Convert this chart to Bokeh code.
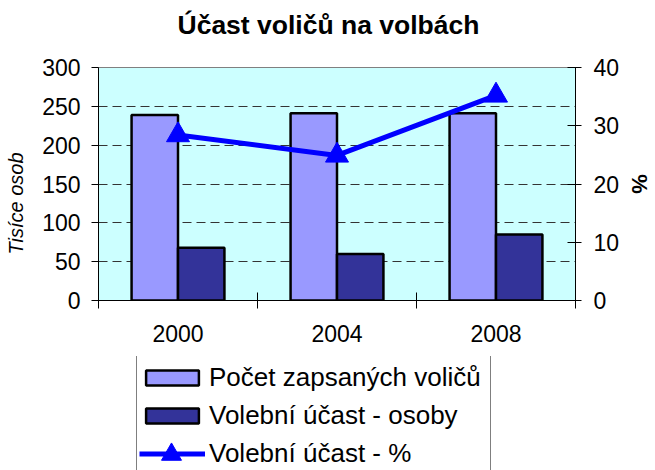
from bokeh.plotting import figure
from bokeh.layouts import column
from bokeh.models import (Range1d, LinearAxis, FixedTicker, Legend, LegendItem,
                          ColumnDataSource, Title)
from bokeh.embed import file_html
from bokeh.resources import INLINE

# ---- data ----
categories = ["2000", "2004", "2008"]
registered = [239, 241, 241]          # Počet zapsaných voličů (tisíce)
turnout_persons = [68, 60, 85]        # Volební účast - osoby (tisíce)
turnout_pct = [28.4, 24.9, 35.2]      # Volební účast - %
left_ticks = [0, 50, 100, 150, 200, 250, 300]
right_ticks = [0, 10, 20, 30, 40]
series_names = ["Počet zapsaných voličů", "Volební účast - osoby", "Volební účast - %"]

FONT = "Liberation Sans"
C_REG = "#9999FF"
C_PER = "#333399"
C_PCT = "#0000FF"
n = len(categories)
centers = [i + 0.5 for i in range(n)]
bw = 0.292

src = ColumnDataSource(dict(
    cat=categories,
    xc=centers,
    x1=[c - bw / 2 for c in centers],
    x2=[c + bw / 2 for c in centers],
    reg=registered,
    per=turnout_persons,
    pct=turnout_pct,
))

p = figure(width=655, height=356, output_backend="svg", toolbar_location=None,
           tools="", x_range=Range1d(0, n), y_range=Range1d(0, left_ticks[-1]),
           min_border_left=98, min_border_right=78, min_border_top=67,
           min_border_bottom=56, title_location=None)
p.background_fill_color = "#CCFFFF"
p.border_fill_color = "white"
p.outline_line_color = "#808080"
p.outline_line_width = 1

p.extra_y_ranges = {"pct": Range1d(0, right_ticks[-1])}


def draw_series(fig, pct_range="pct"):
    a = fig.vbar(x="x1", top="reg", width=bw, source=src, fill_color=C_REG,
                 line_color="black", line_width=2.5)
    b = fig.vbar(x="x2", top="per", width=bw, source=src, fill_color=C_PER,
                 line_color="black", line_width=2.5)
    c = fig.line(x="xc", y="pct", source=src, y_range_name=pct_range,
                 line_color=C_PCT, line_width=5)
    d = fig.scatter(x="xc", y="pct", source=src, y_range_name=pct_range,
                    marker="triangle", size=23, fill_color=C_PCT, line_color=C_PCT)
    return a, b, c, d


draw_series(p)

# title: spacer panel next to the frame, main title above it
p.add_layout(Title(text=" ", text_font_size="1px", standoff=20), "above")
p.add_layout(Title(text="Účast voličů na volbách", align="left", offset=79,
                   text_font=FONT, text_font_size="26.5px", text_font_style="bold",
                   text_color="black", standoff=10), "above")

# grid
p.xgrid.visible = False
p.ygrid.ticker = FixedTicker(ticks=left_ticks[1:-1])
p.ygrid.grid_line_color = "#333333"
p.ygrid.grid_line_dash = "9 5"
p.ygrid.grid_line_width = 1

# x axis
xa = p.xaxis[0]
xa.ticker = FixedTicker(ticks=centers, minor_ticks=list(range(n + 1)))
xa.major_label_overrides = {c: lab for c, lab in zip(centers, categories)}
xa.major_tick_in = 0
xa.major_tick_out = 0
xa.minor_tick_in = 8
xa.minor_tick_out = 8
xa.minor_tick_line_color = "black"
xa.axis_line_color = "black"
xa.major_label_standoff = 16
xa.major_label_text_font = FONT
xa.major_label_text_font_size = "23px"
xa.major_label_text_color = "black"

# left axis
ya = p.yaxis[0]
ya.ticker = FixedTicker(ticks=left_ticks)
ya.minor_tick_line_color = None
ya.major_tick_in = 0
ya.major_tick_out = 7
ya.major_tick_line_color = "black"
ya.axis_line_color = "black"
ya.major_label_standoff = 11
ya.major_label_text_font = FONT
ya.major_label_text_font_size = "23px"
ya.major_label_text_color = "black"
ya.axis_label = "Tisíce osob" + "\u00a0" * 7
ya.axis_label_text_font = FONT
ya.axis_label_text_font_size = "20px"
ya.axis_label_text_font_style = "italic"
ya.axis_label_text_color = "black"
ya.axis_label_standoff = 12

# right axis
ra = LinearAxis(y_range_name="pct", ticker=FixedTicker(ticks=right_ticks))
ra.minor_tick_line_color = None
ra.major_tick_in = 8
ra.major_tick_out = 6
ra.major_tick_line_color = "black"
ra.axis_line_color = "black"
ra.major_label_standoff = 12
ra.major_label_text_font = FONT
ra.major_label_text_font_size = "23px"
ra.major_label_text_color = "black"
ra.axis_label = "%"
ra.axis_label_text_font = FONT
ra.axis_label_text_font_size = "22px"
ra.axis_label_text_font_style = "bold"
ra.axis_label_text_color = "black"
ra.axis_label_standoff = 5
p.add_layout(ra, "right")

# ---- legend strip below the chart (same series, hidden, used only as legend keys) ----
q = figure(width=655, height=114, output_backend="svg", toolbar_location=None,
           tools="", x_range=Range1d(100, 103), y_range=Range1d(1000, 2000),
           x_axis_type=None, y_axis_type=None, min_border_left=98,
           min_border_right=78, min_border_top=0, min_border_bottom=0)
q.extra_y_ranges = {"pct": Range1d(100, 200)}
q.outline_line_color = None
q.background_fill_color = "white"
q.border_fill_color = "white"
q.xgrid.visible = False
q.ygrid.visible = False
g1, g2, g3, g4 = draw_series(q)
for g in (g1, g2, g3, g4):
    g.visible = False

legend = Legend(items=[
    LegendItem(label=series_names[0], renderers=[g1]),
    LegendItem(label=series_names[1], renderers=[g2]),
    LegendItem(label=series_names[2], renderers=[g3]),
], location=(38, -5))
legend.label_text_font = FONT
legend.label_text_font_size = "26px"
legend.label_text_color = "black"
legend.glyph_width = 66
legend.glyph_height = 19
legend.label_height = 38
legend.label_width = 279
legend.spacing = 0
legend.padding = 2
legend.margin = 0
legend.label_standoff = 4
legend.border_line_color = "black"
legend.border_line_width = 1
legend.background_fill_color = "white"
legend.background_fill_alpha = 1
legend.inactive_fill_alpha = 0
q.add_layout(legend, "center")

# larger marker overlay for the line entry of the legend
legend_m = Legend(items=[LegendItem(label=" ", renderers=[g4])], location=(40, -9))
legend_m.glyph_width = 66
legend_m.glyph_height = 50
legend_m.label_height = 50
legend_m.label_width = 0
legend_m.label_standoff = 0
legend_m.padding = 0
legend_m.margin = 0
legend_m.spacing = 0
legend_m.border_line_color = None
legend_m.background_fill_alpha = 0
legend_m.inactive_fill_alpha = 0
legend_m.label_text_font_size = "1px"
q.add_layout(legend_m, "center")

layout = column(p, q, spacing=0)
open("out.html", "w").write(file_html(layout, INLINE))
